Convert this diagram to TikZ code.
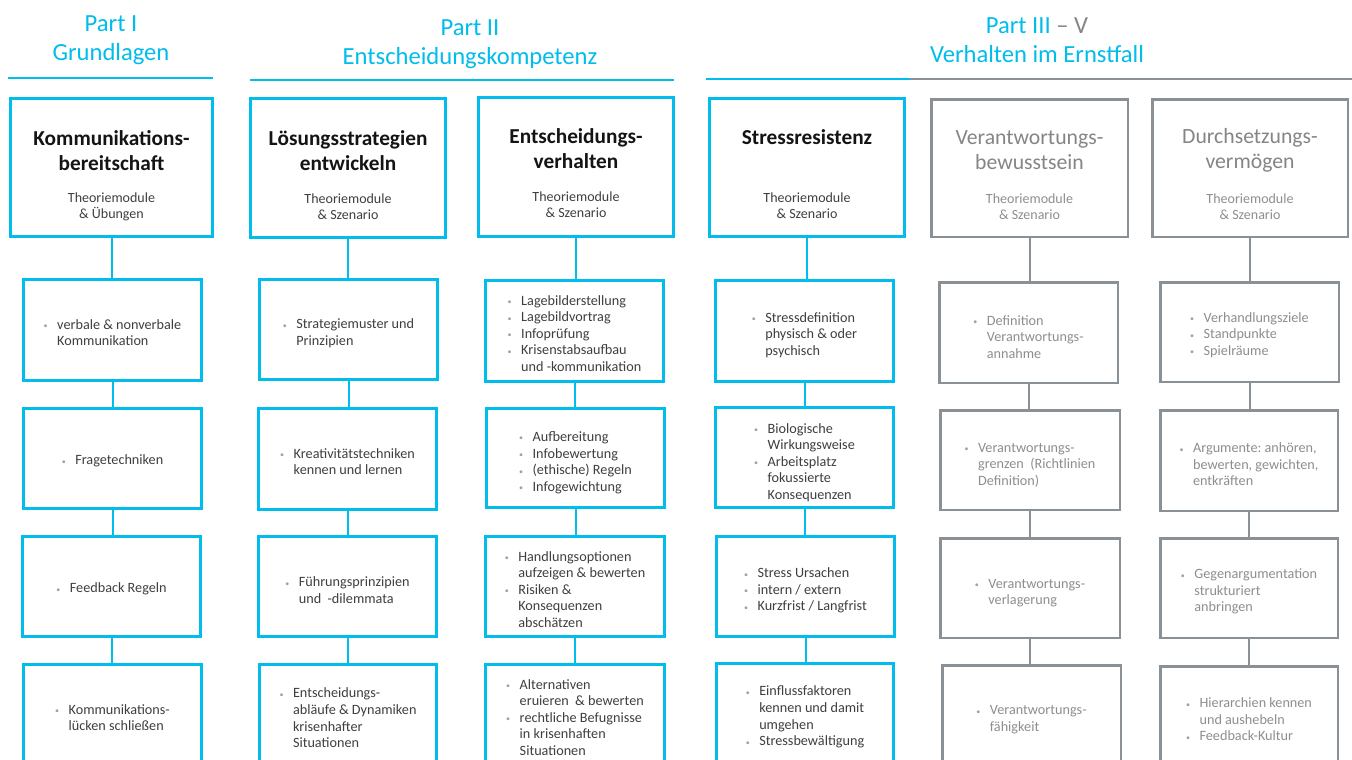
\documentclass[tikz,border=0pt]{standalone}
\usepackage{fontspec}
\setmainfont{Carlito}
\usetikzlibrary{fit}
\definecolor{cy}{HTML}{00BDEB}
\definecolor{gb}{HTML}{8A9196}
\definecolor{gt}{HTML}{8E8E8E}
\definecolor{gh}{HTML}{858585}
\definecolor{tx}{HTML}{3F3F3F}
\definecolor{bl}{HTML}{A0A0A0}
\definecolor{tt}{HTML}{141414}
\newcommand\bu{\makebox[13.5pt][l]{\raisebox{0.5pt}{\color{bl}\fontsize{8}{8}\selectfont\textbullet}}}
\newcommand\nb{\makebox[13.5pt]{}}
\newcommand\blist[1]{\begin{tabular}{@{}l@{}}#1\end{tabular}}
\tikzset{
  cbox/.style={draw=cy, line width=2.8pt, inner sep=-1.4pt, outer sep=0pt},
  gbox/.style={draw=gb, line width=2.5pt, inner sep=-1.25pt, outer sep=0pt},
  btext/.style={inner sep=0pt, text=tx, font=\fontsize{14.2}{16.6}\selectfont},
  gtext/.style={btext, text=gt},
  ttl/.style={font=\fontsize{21.3}{25}\selectfont\bfseries, text=tt, align=center},
  gttl/.style={font=\fontsize{21.7}{25}\selectfont, text=gh, align=center},
  subt/.style={font=\fontsize{14}{16.2}\selectfont, text=tx, align=center},
  gsubt/.style={subt, text=gt},
  head/.style={font=\fontsize{24.6}{29.5}\selectfont, text=cy, align=center},
  cconn/.style={draw=cy, line width=2pt},
  gconn/.style={draw=gb, line width=2pt},
  crule/.style={draw=cy, line width=2.6pt},
  grule/.style={draw=gb, line width=2.6pt}
}
\begin{document}
\begin{tikzpicture}[x=1pt,y=-1pt]
\clip (0,0) rectangle (1352,760);
\fill[white] (0,0) rectangle (1352,760);

% headers
\node[head] (p1) at (111,40) {Part I\\Grundlagen};
\node[head] (p2) at (470,44) {Part II\\Entscheidungskompetenz};
\node[head] (p3) at (1037,40) {Part III {\color{gh}– V}\\Verhalten im Ernstfall};
\coordinate (r1a) at (8,78); \coordinate (r1b) at (213,78);
\coordinate (r2a) at (250,80); \coordinate (r2b) at (674,80);
\coordinate (r3a) at (706,79); \coordinate (r3m) at (910,79); \coordinate (r3b) at (1352,79);
\draw[crule] (r1a) -- (r1b);
\draw[crule] (r2a) -- (r2b);
\draw[grule] (r3m) -- (r3b);
\draw[crule] (r3a) -- (r3m);

% ---------- column 1
\node[cbox, fit={(9,97)(214,238)}] (h1) {};
\node[ttl] (t1) at (111.5,150.5) {Kommunikations-\\bereitschaft};
\node[subt] (s1) at (111.5,206.5) {Theoriemodule\\\& Übungen};
\node[cbox, fit={(22,278)(203,382)}] (b11) {};
\node[cbox, fit={(22,407)(203,510)}] (b12) {};
\node[cbox, fit={(21,535)(202,638)}] (b13) {};
\node[cbox, fit={(22,663)(203,771)}] (b14) {};
\node[btext] (x11) at ([yshift=-4pt]b11.center) {\blist{\bu verbale \& nonverbale\\\nb Kommunikation}};
\node[btext] (x12) at ([yshift=-3pt]b12.center) {\blist{\bu Fragetechniken}};
\node[btext] (x13) at ([yshift=-3pt]b13.center) {\blist{\bu Feedback Regeln}};
\node[btext] (x14) at ([yshift=-2pt]b14.center) {\blist{\bu Kommunikations-\\\nb lücken schließen}};
\draw[cconn] (h1.south) -- (h1.south |- b11.north);
\draw[cconn] (b11.south) -- (b11.south |- b12.north);
\draw[cconn] (b12.south) -- (b12.south |- b13.north);
\draw[cconn] (b13.south) -- (b13.south |- b14.north);

% ---------- column 2
\node[cbox, fit={(249,97)(447,239)}] (h2) {};
\node[ttl] (t2) at (348,150.5) {Lösungsstrategien\\entwickeln};
\node[subt] (s2) at (348,206.5) {Theoriemodule\\\& Szenario};
\node[cbox, fit={(258,278)(439,381)}] (b21) {};
\node[cbox, fit={(257,407)(438,511)}] (b22) {};
\node[cbox, fit={(257,535)(438,638)}] (b23) {};
\node[cbox, fit={(258,663)(438,771)}] (b24) {};
\node[btext] (x21) at ([yshift=-4pt]b21.center) {\blist{\bu Strategiemuster und\\\nb Prinzipien}};
\node[btext] (x22) at ([yshift=-4pt]b22.center) {\blist{\bu Kreativitätstechniken\\\nb kennen und lernen}};
\node[btext] (x23) at ([yshift=-5pt]b23.center) {\blist{\bu Führungsprinzipien\\\nb und\ \ -dilemmata}};
\node[btext] (x24) at ([yshift=-2.5pt]b24.center) {\blist{\bu Entscheidungs-\\\nb abläufe \& Dynamiken\\\nb krisenhafter\\\nb Situationen}};
\draw[cconn] (h2.south) -- (h2.south |- b21.north);
\draw[cconn] (b21.south) -- (b21.south |- b22.north);
\draw[cconn] (b22.south) -- (b22.south |- b23.north);
\draw[cconn] (b23.south) -- (b23.south |- b24.north);

% ---------- column 3
\node[cbox, fit={(477,96)(675,238)}] (h3) {};
\node[ttl] (t3) at (576,148.5) {Entscheidungs-\\verhalten};
\node[subt] (s3) at (576,204.5) {Theoriemodule\\\& Szenario};
\node[cbox, fit={(484,279)(665,383)}] (b31) {};
\node[cbox, fit={(485,407)(666,509)}] (b32) {};
\node[cbox, fit={(484,535)(666,638)}] (b33) {};
\node[cbox, fit={(484,663)(666,771)}] (b34) {};
\node[btext] (x31) at ([yshift=-4pt]b31.center) {\blist{\bu Lagebilderstellung\\\bu Lagebildvortrag\\\bu Infoprüfung\\\bu Krisenstabsaufbau\\\nb und -kommunikation}};
\node[btext] (x32) at ([yshift=-5pt]b32.center) {\blist{\bu Aufbereitung\\\bu Infobewertung\\\bu (ethische) Regeln\\\bu Infogewichtung}};
\node[btext] (x33) at ([yshift=-4.5pt]b33.center) {\blist{\bu Handlungsoptionen\\\nb aufzeigen \& bewerten\\\bu Risiken \&\\\nb Konsequenzen\\\nb abschätzen}};
\node[btext] (x34) at ([yshift=-2pt]b34.center) {\blist{\bu Alternativen\\\nb eruieren\ \ \& bewerten\\\bu rechtliche Befugnisse\\\nb in krisenhaften\\\nb Situationen}};
\draw[cconn] (h3.south) -- (h3.south |- b31.north);
\draw[cconn] (b31.south) -- (b31.south |- b32.north);
\draw[cconn] (b32.south) -- (b32.south |- b33.north);
\draw[cconn] (b33.south) -- (b33.south |- b34.north);

% ---------- column 4
\node[cbox, fit={(708,97)(906,238)}] (h4) {};
\node[ttl] (t4) at (807,137) {Stressresistenz};
\node[subt] (s4) at (807,205.5) {Theoriemodule\\\& Szenario};
\node[cbox, fit={(714,279)(895,383)}] (b41) {};
\node[cbox, fit={(714,406)(895,509)}] (b42) {};
\node[cbox, fit={(715,535)(896,638)}] (b43) {};
\node[cbox, fit={(715,662)(895,771)}] (b44) {};
\node[btext] (x41) at ([yshift=-4.5pt]b41.center) {\blist{\bu Stressdefinition\\\nb physisch \& oder\\\nb psychisch}};
\node[btext] (x42) at ([yshift=-5.5pt]b42.center) {\blist{\bu Biologische\\\nb Wirkungsweise\\\bu Arbeitsplatz\\\nb fokussierte\\\nb Konsequenzen}};
\node[btext] (x43) at ([yshift=-4.5pt]b43.center) {\blist{\bu Stress Ursachen\\\bu intern / extern\\\bu Kurzfrist / Langfrist}};
\node[btext] (x44) at ([yshift=-1pt]b44.center) {\blist{\bu Einflussfaktoren\\\nb kennen und damit\\\nb umgehen\\\bu Stressbewältigung}};
\draw[cconn] (h4.south) -- (h4.south |- b41.north);
\draw[cconn] (b41.south) -- (b41.south |- b42.north);
\draw[cconn] (b42.south) -- (b42.south |- b43.north);
\draw[cconn] (b43.south) -- (b43.south |- b44.north);

% ---------- column 5 (grey)
\node[gbox, fit={(930,98)(1129,238)}] (h5) {};
\node[gttl] (t5) at (1029.5,150.5) {Verantwortungs-\\bewusstsein};
\node[gsubt] (s5) at (1029.5,206.5) {Theoriemodule\\\& Szenario};
\node[gbox, fit={(938,281)(1119,384)}] (b51) {};
\node[gbox, fit={(939,409)(1121,511)}] (b52) {};
\node[gbox, fit={(939,537)(1121,639)}] (b53) {};
\node[gbox, fit={(941,664)(1122,771)}] (b54) {};
\node[gtext] (x51) at ([yshift=-6pt]b51.center) {\blist{\bu Definition\\\nb Verantwortungs-\\\nb annahme}};
\node[gtext] (x52) at ([yshift=-5.5pt]b52.center) {\blist{\bu Verantwortungs-\\\nb grenzen\ \ (Richtlinien\\\nb Definition)}};
\node[gtext] (x53) at ([yshift=-5pt]b53.center) {\blist{\bu Verantwortungs-\\\nb verlagerung}};
\node[gtext] (x54) at ([yshift=-2pt]b54.center) {\blist{\bu Verantwortungs-\\\nb fähigkeit}};
\draw[gconn] (h5.south) -- (h5.south |- b51.north);
\draw[gconn] (b51.south) -- (b51.south |- b52.north);
\draw[gconn] (b52.south) -- (b52.south |- b53.north);
\draw[gconn] (b53.south) -- (b53.south |- b54.north);

% ---------- column 6 (grey)
\node[gbox, fit={(1151,98)(1349,238)}] (h6) {};
\node[gttl] (t6) at (1250,150.5) {Durchsetzungs-\\vermögen};
\node[gsubt] (s6) at (1250,206.5) {Theoriemodule\\\& Szenario};
\node[gbox, fit={(1159,281)(1340,383)}] (b61) {};
\node[gbox, fit={(1159,409)(1339,512)}] (b62) {};
\node[gbox, fit={(1159,537)(1339,639)}] (b63) {};
\node[gbox, fit={(1159,665)(1339,771)}] (b64) {};
\node[gtext] (x61) at ([yshift=-3.5pt]b61.center) {\blist{\bu Verhandlungsziele\\\bu Standpunkte\\\bu Spielräume}};
\node[gtext] (x62) at ([yshift=-5.5pt]b62.center) {\blist{\bu Argumente:\ anhören,\\\nb bewerten, gewichten,\\\nb entkräften}};
\node[gtext] (x63) at ([yshift=-4pt]b63.center) {\blist{\bu Gegenargumentation\\\nb strukturiert\\\nb anbringen}};
\node[gtext] (x64) at ([yshift=-3pt]b64.center) {\blist{\bu Hierarchien kennen\\\nb und aushebeln\\\bu Feedback-Kultur}};
\draw[gconn] (h6.south) -- (h6.south |- b61.north);
\draw[gconn] (b61.south) -- (b61.south |- b62.north);
\draw[gconn] (b62.south) -- (b62.south |- b63.north);
\draw[gconn] (b63.south) -- (b63.south |- b64.north);
\end{tikzpicture}
\end{document}
